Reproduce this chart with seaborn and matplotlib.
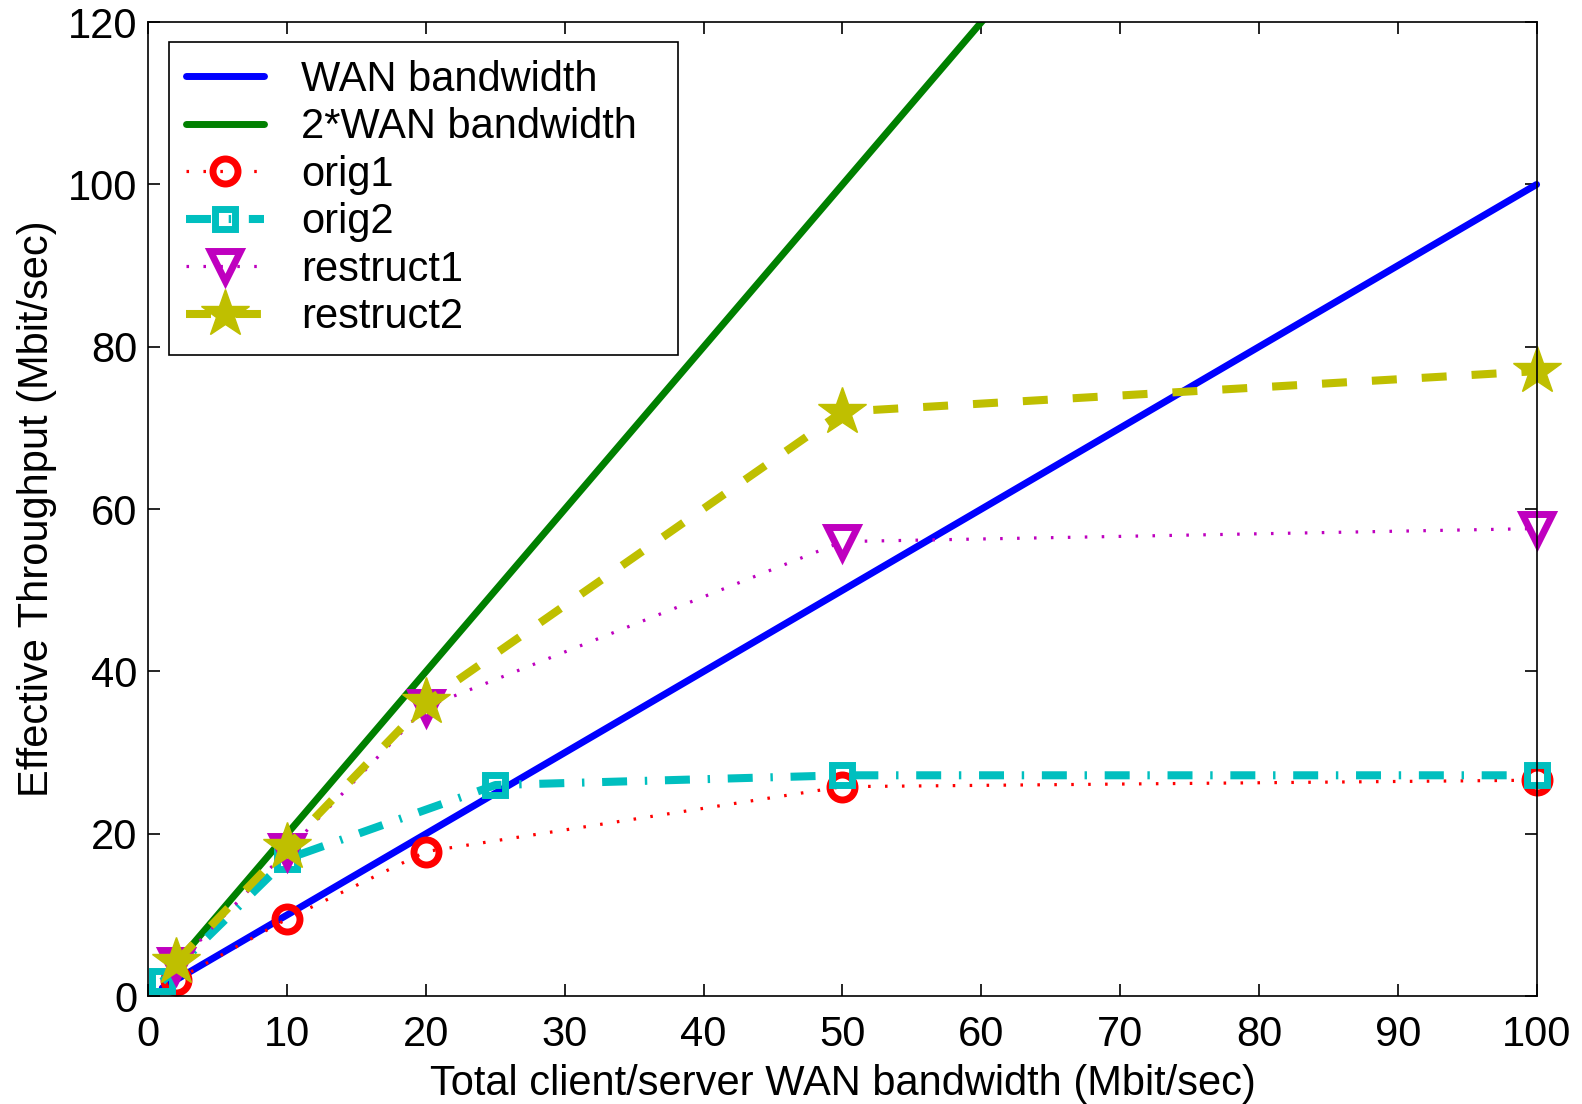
import matplotlib
matplotlib.use("Agg")
import matplotlib.pyplot as plt
import seaborn as sns

# Reference lines: link bandwidth and twice the link bandwidth
ref_x = [1, 2, 10, 20, 25, 50, 100]
wan_y = [1, 2, 10, 20, 25, 50, 100]
wan2_x = [2, 10, 20, 25, 50, 60, 100]
wan2_y = [4, 20, 40, 50, 100, 120, 200]

# Measured throughput
orig1_x = [2, 10, 20, 50, 100]
orig1_y = [2.0, 9.5, 17.8, 25.8, 26.6]
orig2_x = [1, 10, 25, 50, 100]
orig2_y = [1.8, 16.9, 26.0, 27.2, 27.2]
restruct1_x = [2, 10, 20, 50, 100]
restruct1_y = [3.8, 17.9, 35.6, 56.0, 57.6]
restruct2_x = [2, 10, 20, 50, 100]
restruct2_y = [4.2, 18.4, 36.2, 72.0, 77.0]

x_ticks = [0, 10, 20, 30, 40, 50, 60, 70, 80, 90, 100]
y_ticks = [0, 20, 40, 60, 80, 100, 120]

sns.set_style("ticks")
plt.rcParams["font.family"] = ["Liberation Sans", "DejaVu Sans"]
plt.rcParams.update({
    "xtick.direction": "in", "ytick.direction": "in",
    "xtick.major.size": 8.5, "ytick.major.size": 8.5,
    "xtick.major.width": 1.2, "ytick.major.width": 1.2,
    "xtick.top": True, "ytick.right": True,
    "axes.linewidth": 1.2, "axes.edgecolor": "black",
    "xtick.color": "black", "ytick.color": "black",
    "text.color": "black", "axes.labelcolor": "black",
    "xtick.major.pad": 14, "ytick.major.pad": 8,
})

FS = 30

fig = plt.figure(figsize=(15.82, 11.04), dpi=100)
ax = fig.add_axes([0.0938, 0.0978, 0.9713 - 0.0938, 0.9799 - 0.0978])

BLUE = (0, 0, 1)
GREEN = (0, 0.5, 0)
RED = (1, 0, 0)
CYAN = (0, 0.75, 0.75)
MAG = (0.75, 0, 0.75)
YEL = (0.75, 0.75, 0)

DOTS = (0, (0.8, 4.5))

sns.lineplot(x=ref_x, y=wan_y, ax=ax, color=BLUE, lw=5, label="WAN bandwidth")
sns.lineplot(x=wan2_x, y=wan2_y, ax=ax, color=GREEN, lw=5, label="2*WAN bandwidth")
sns.lineplot(x=orig1_x, y=orig1_y, ax=ax, color=RED, lw=2.3,
             linestyle=DOTS, marker="o", markersize=18,
             markerfacecolor="none", markeredgecolor=RED, markeredgewidth=5,
             label="orig1")
sns.lineplot(x=orig2_x, y=orig2_y, ax=ax, color=CYAN, lw=5.8,
             linestyle=(0, (3.1, 2.2, 0.3, 2.2)), marker="s", markersize=15,
             markerfacecolor="none", markeredgecolor=CYAN, markeredgewidth=5,
             label="orig2")
sns.lineplot(x=restruct1_x, y=restruct1_y, ax=ax, color=MAG, lw=2.3,
             linestyle=DOTS, marker="v", markersize=21,
             markerfacecolor="none", markeredgecolor=MAG, markeredgewidth=5,
             label="restruct1")
sns.lineplot(x=restruct2_x, y=restruct2_y, ax=ax, color=YEL, lw=5.8,
             linestyle=(0, (3.1, 3.1)), marker="*", markersize=36,
             markerfacecolor=YEL, markeredgecolor=YEL, markeredgewidth=1,
             label="restruct2")

# let the markers on the frame edges show in full; the 2x line is cut at the top
for line in ax.lines:
    if line.get_label() != "2*WAN bandwidth":
        line.set_clip_on(False)

ax.set_xlim(0, 100)
ax.set_ylim(0, 120)
ax.set_xticks(x_ticks)
ax.set_yticks(y_ticks)
ax.tick_params(labelsize=FS)
ax.set_xlabel("Total client/server WAN bandwidth (Mbit/sec)", fontsize=FS, labelpad=6)
ax.set_ylabel("Effective Throughput (Mbit/sec)", fontsize=FS, labelpad=8)
for s in ax.spines.values():
    s.set_visible(True)

leg = ax.legend(loc="upper left", bbox_to_anchor=(0.0145, 0.5, 0.367, 0.4793),
                mode="expand", borderaxespad=0.0,
                fontsize=FS, frameon=True, fancybox=False,
                edgecolor="black", framealpha=1, handlelength=1.86,
                labelspacing=0.18, handletextpad=0.9, borderpad=0.42)
leg.get_frame().set_linewidth(1.2)

fig.savefig("out.png", dpi=100)
